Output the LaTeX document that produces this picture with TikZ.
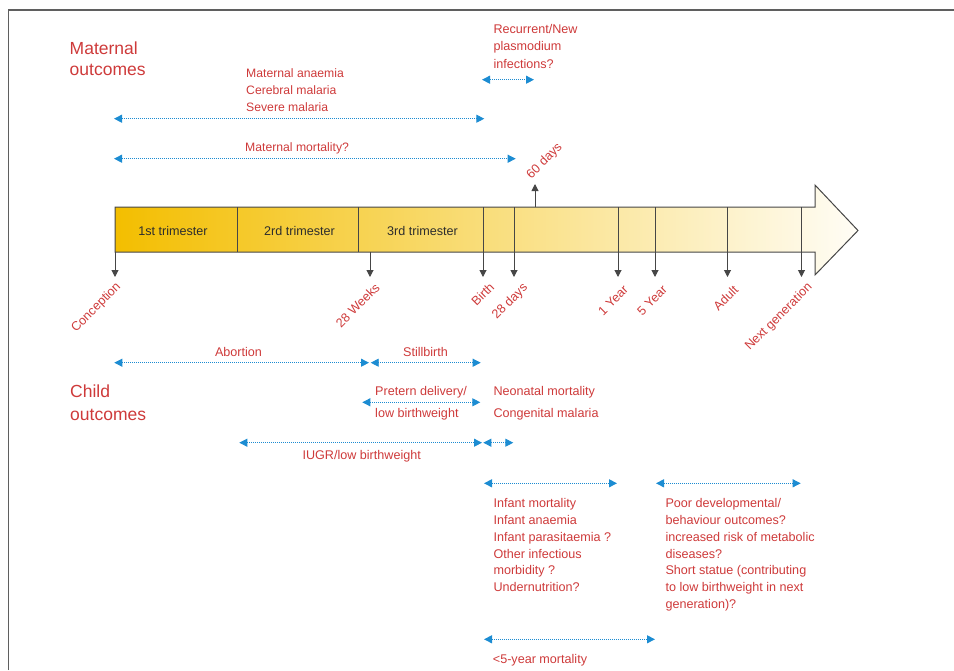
\documentclass[tikz,border=0pt]{standalone}
\usepackage{fontspec}
\setmainfont{Liberation Sans}
\usetikzlibrary{arrows.meta}
\definecolor{txtred}{RGB}{206,58,58}
\definecolor{rngblue}{RGB}{28,140,210}
\definecolor{barline}{RGB}{70,70,70}
\definecolor{framegray}{RGB}{95,95,95}
\definecolor{goldL}{RGB}{243,190,0}
\definecolor{goldR}{RGB}{255,253,246}
\definecolor{bartext}{RGB}{45,45,45}
\begin{document}
\begin{tikzpicture}[x=1pt,y=-1pt,
  redtxt/.style={text=txtred, inner sep=0pt, align=left, font=\fontsize{12.6}{17}\selectfont},
  redlist/.style={redtxt, anchor=base west, font=\fontsize{12.6}{#1}\selectfont},
  heading/.style={text=txtred, inner sep=0pt, align=left, anchor=base west, font=\fontsize{17.5}{#1}\selectfont},
  bartxt/.style={text=bartext, inner sep=0pt, font=\fontsize{12.6}{15}\selectfont},
  tlab/.style={text=txtred, inner sep=0pt, rotate=45, font=\fontsize{12.6}{15}\selectfont},
  spanarrow/.style={rngblue, line width=0.9pt, dash pattern=on 1pt off 1pt,
    {Triangle[length=8pt,width=8pt]}-{Triangle[length=8pt,width=8pt]}},
  tickarrow/.style={barline, line width=1pt, -{Triangle[length=7pt,width=7pt]}},
  divider/.style={barline, line width=1pt}]
\useasboundingbox (0,0) rectangle (954,670);
% frame
\draw[framegray, line width=1.4pt] (8.5,670) -- (8.5,10) -- (954,10);

% timeline bar arrow
\path[draw=barline, line width=1pt, left color=goldL, right color=goldR]
  (115,207) -- (815,207) -- (815,185) -- (858,230.5) -- (815,275) -- (815,252) -- (115,252) -- cycle;

% dividers without ticks
\coordinate (d1t) at (237,207); \coordinate (d1b) at (237,252);
\coordinate (d2t) at (358.5,207); \coordinate (d2b) at (358.5,252);
\draw[divider] (d1t) -- (d1b);
\draw[divider] (d2t) -- (d2b);

% tick coordinates
\coordinate (conT) at (115,252);   \coordinate (conE) at (115,277);
\coordinate (wkT)  at (370,252);   \coordinate (wkE)  at (370,277);
\coordinate (biT)  at (483,207);   \coordinate (biE)  at (483,277);
\coordinate (d28T) at (514,207);   \coordinate (d28E) at (514,277);
\coordinate (y1T)  at (618,207);   \coordinate (y1E)  at (618,277);
\coordinate (y5T)  at (655,207);   \coordinate (y5E)  at (655,277);
\coordinate (adT)  at (727.5,207); \coordinate (adE)  at (727.5,277);
\coordinate (ngT)  at (801.5,207); \coordinate (ngE)  at (801.5,277);
\coordinate (d60B) at (535,207);   \coordinate (d60E) at (535,184);

\foreach \a/\b in {conT/conE, wkT/wkE, biT/biE, d28T/d28E, y1T/y1E, y5T/y5E, adT/adE, ngT/ngE, d60B/d60E}
  \draw[tickarrow] (\a) -- (\b);

% bar texts
\node[bartxt] (tri1) at (173,230.5) {1st trimester};
\node[bartxt] (tri2) at (299.5,230.5) {2rd trimester};
\node[bartxt] (tri3) at (422.5,230.5) {3rd trimester};

% rotated tick labels
\node[tlab, anchor=east] (lcon) at (119,285) {Conception};
\node[tlab, anchor=east] (lwk)  at (377.5,285.5) {28 Weeks};
\node[tlab, anchor=east] (lbi)  at (492,285) {Birth};
\node[tlab, anchor=east] (l28)  at (526,286) {28 days};
\node[tlab, anchor=east] (ly1)  at (626,287.5) {1 Year};
\node[tlab, anchor=east] (ly5)  at (665,287.5) {5 Year};
\node[tlab, anchor=east] (lad)  at (736,288) {Adult};
\node[tlab, anchor=east] (lng)  at (810.5,285.5) {Next generation};
\node[tlab, anchor=west] (l60)  at (529,177) {60 days};

% headings (base anchor = last line baseline)
\node[heading=20.3] (hmat) at (69.5,75) {Maternal\\outcomes};
\node[heading=23] (hchild) at (70,420.7) {Child\\outcomes};

% maternal outcomes
\node[redlist=17.5] (recur) at (493.3,68.3) {Recurrent/New\\plasmodium\\infections?};
\coordinate (rA) at (482,79.7); \coordinate (rB) at (534,79.7);
\draw[spanarrow] (rA) -- (rB);

\node[redlist=17.3, font=\fontsize{12.2}{17.3}\selectfont] (manaem) at (246,111.9) {Maternal anaemia\\Cerebral malaria\\Severe malaria};
\coordinate (m1A) at (114,118.7); \coordinate (m1B) at (484.3,118.7);
\draw[spanarrow] (m1A) -- (m1B);

\node[redlist=17, font=\fontsize{12.2}{17}\selectfont] (mmort) at (245,151.7) {Maternal mortality?};
\coordinate (m2A) at (114,158.7); \coordinate (m2B) at (515.7,158.7);
\draw[spanarrow] (m2A) -- (m2B);

% child outcomes
\node[redtxt, anchor=base] (abort) at (238.5,356.7) {Abortion};
\node[redtxt, anchor=base] (still) at (425.5,356.7) {Stillbirth};
\coordinate (abA) at (114.3,362.7); \coordinate (abB) at (369,362.7);
\coordinate (stA) at (370.7,362.7); \coordinate (stB) at (480.7,362.7);
\draw[spanarrow] (abA) -- (abB);
\draw[spanarrow] (stA) -- (stB);

\node[redtxt, anchor=base west] (pret1) at (375,395.7) {Pretern delivery/};
\node[redtxt, anchor=base west] (pret2) at (375,417.3) {low birthweight};
\coordinate (prA) at (362.3,402.3); \coordinate (prB) at (480.3,402.3);
\draw[spanarrow] (prA) -- (prB);

\node[redlist=21.5] (neo) at (493.3,417.2) {Neonatal mortality\\Congenital malaria};

\coordinate (iuA) at (239.3,442.7); \coordinate (iuB) at (482,442.7);
\coordinate (smA) at (483.3,442.7); \coordinate (smB) at (513.3,442.7);
\draw[spanarrow] (iuA) -- (iuB);
\draw[spanarrow] (smA) -- (smB);
\node[redtxt, anchor=base] (iugr) at (361.7,459.3) {IUGR/low birthweight};

\coordinate (inA) at (484,483.3); \coordinate (inB) at (617,483.3);
\draw[spanarrow] (inA) -- (inB);
\node[redlist=16.9] (infant) at (493.3,591.8) {Infant mortality\\Infant anaemia\\Infant parasitaemia ?\\Other infectious\\morbidity ?\\Undernutrition?};

\coordinate (poA) at (656,483.3); \coordinate (poB) at (800.7,483.3);
\draw[spanarrow] (poA) -- (poB);
\node[redlist=16.9] (poor) at (665.3,608.7) {Poor developmental/\\behaviour outcomes?\\increased risk of metabolic\\diseases?\\Short statue (contributing\\to low birthweight in next\\generation)?};

\coordinate (fvA) at (484,639.3); \coordinate (fvB) at (655,639.3);
\draw[spanarrow] (fvA) -- (fvB);
\node[redtxt, anchor=base west] (five) at (492.7,663.5) {<5-year mortality};
\end{tikzpicture}
\end{document}
